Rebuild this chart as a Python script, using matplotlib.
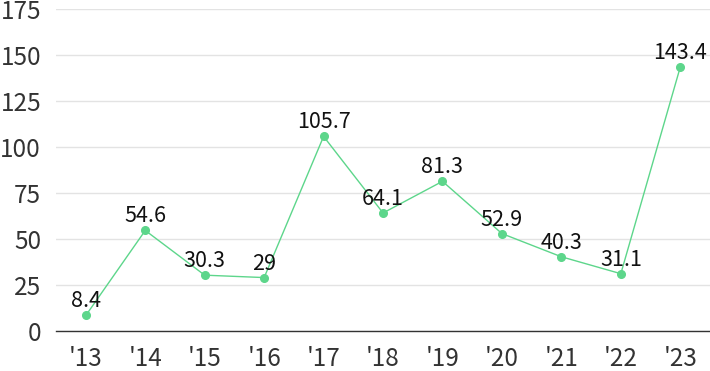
import matplotlib.pyplot as plt

# ======================================================================
# Data
# ======================================================================
years = ["'13", "'14", "'15", "'16", "'17", "'18", "'19", "'20", "'21", "'22", "'23"]
values = [8.4, 54.6, 30.3, 29, 105.7, 64.1, 81.3, 52.9, 40.3, 31.1, 143.4]
value_labels = ["8.4", "54.6", "30.3", "29", "105.7", "64.1", "81.3", "52.9", "40.3", "31.1", "143.4"]
y_ticks = [0, 25, 50, 75, 100, 125, 150, 175]

GREEN = '#5dd68b'
plt.rcParams['font.family'] = ['Noto Sans CJK KR', 'DejaVu Sans']

# ======================================================================
# Plot
# ======================================================================
fig = plt.figure(figsize=(7.1, 3.71), dpi=100)
ax = fig.add_axes([0.079, 0.108, 0.921, 0.868])

x = list(range(len(years)))
ax.plot(x, values, '-', color=GREEN, linewidth=1, zorder=3)
ax.plot(x, values, 'o', color=GREEN, markersize=5.5, zorder=4)

for xi, v, lab in zip(x, values, value_labels):
    ax.annotate(lab, (xi, v), xytext=(0, 5.8), textcoords='offset points',
                ha='center', va='baseline', fontsize=15.5, color='#111111', zorder=5)

ax.set_xlim(-0.5, len(years) - 0.5)
ax.set_ylim(0, 175)
ax.set_yticks(y_ticks)
ax.set_xticks(x)
ax.set_xticklabels(years)
ax.tick_params(axis='both', length=0, labelsize=17.5, colors='#333333')
ax.tick_params(axis='y', pad=10.8)
ax.tick_params(axis='x', pad=11)

ax.grid(axis='y', color='#e3e3e3', linewidth=1)
ax.set_axisbelow(True)
for side in ['top', 'right', 'left']:
    ax.spines[side].set_visible(False)
ax.spines['bottom'].set_color('#333333')
ax.spines['bottom'].set_linewidth(1)

plt.savefig('out.png', dpi=100)
